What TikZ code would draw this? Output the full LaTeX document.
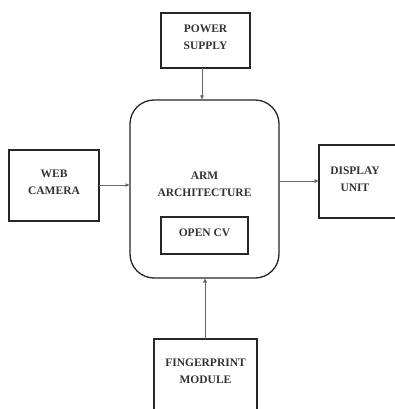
\documentclass[tikz,border=0pt]{standalone}
\usepackage{fontspec}
\setmainfont{Liberation Serif}
\usetikzlibrary{arrows.meta}
\begin{document}
\begin{tikzpicture}[x=1pt,y=-1pt,
  blk/.style={draw=black!85,line width=1.3pt,inner sep=0pt},
  lbl/.style={font=\fontsize{11.5}{17}\selectfont\bfseries,align=center,text=black!80,inner sep=0pt},
  conn/.style={draw=black!60,line width=0.8pt,-{Latex[length=4.5pt,width=4pt]}}]
\useasboundingbox (0,0) rectangle (395,409);
\clip (0,0) rectangle (395,409);
\fill[white] (0,0) rectangle (395,409);
% boxes
\draw[blk] (161,13) rectangle (250,68);
\node[lbl] (ps) at (205.5,37) {POWER\\SUPPLY};
\coordinate (psb) at (202,68);
\draw[blk,rounded corners=24pt] (130,100) rectangle (279,278);
\node[lbl] (arm) at (204.5,184) {ARM\\ARCHITECTURE};
\coordinate (armt) at (202,100);
\coordinate (arml) at (130,185);
\coordinate (armr) at (279,181);
\coordinate (armb) at (205,278);
\draw[blk,line width=1.1pt] (161,217) rectangle (248,254);
\node[lbl] (cv) at (204.5,233) {OPEN CV};
\draw[blk] (9,150) rectangle (99,221);
\node[lbl] (web) at (54,182) {WEB\\CAMERA};
\coordinate (webr) at (99,185);
\draw[blk] (319,145) rectangle (400,218);
\node[lbl] (disp) at (355,179) {DISPLAY\\UNIT};
\coordinate (displ) at (319,181);
\draw[blk] (154,339) rectangle (257,430);
\node[lbl] (fp) at (205.5,371) {FINGERPRINT\\MODULE};
\coordinate (fpt) at (205,339);
% connectors
\draw[conn] (psb) -- (armt);
\draw[conn] (webr) -- (arml);
\draw[conn] (armr) -- (displ);
\draw[conn] (fpt) -- (armb);
\end{tikzpicture}
\end{document}
